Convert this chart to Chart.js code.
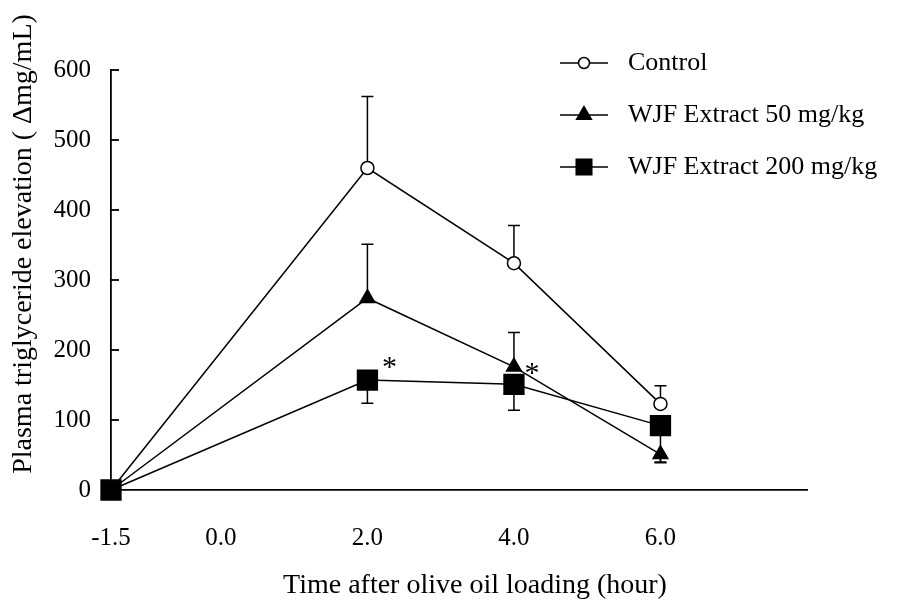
<!DOCTYPE html>
<html>
<head>
<meta charset="utf-8">
<script src="https://cdn.jsdelivr.net/npm/chart.js@4/dist/chart.umd.min.js"></script>
<style>
  html, body { margin: 0; padding: 0; background: #fff; }
  #wrap { width: 901px; height: 603px; }
</style>
</head>
<body>
<div id="wrap"><canvas id="chart"></canvas></div>
<script>
// Plasma triglyceride elevation after olive oil loading

const hours = [-1.5, 2.0, 4.0, 6.0];
const xTicks = [-1.5, 0, 2, 4, 6];
const yTicks = [0, 100, 200, 300, 400, 500, 600];
const seriesNames = ["Control", "WJF Extract 50 mg/kg", "WJF Extract 200 mg/kg"];

const control = [0, 460, 324, 123];
const extract50 = [0, 274, 176, 51];
const extract200 = [0, 157, 151, 92];

// SEM, signed: positive is drawn upward, negative downward
const controlErr = [0, 102, 54, 26];
const extract50Err = [0, 77, 49, -12];
const extract200Err = [0, -33, -37, -52];

// significance marks: [dataset, point]
const starred = [[2, 1], [2, 2]];

const SERIF = "'Liberation Serif', 'Times New Roman', serif";

const toPoints = (vals) => vals.map((v, i) => ({ x: hours[i], y: v }));

// error bars under the markers
const errorBars = {
  id: "errorBars",
  beforeDatasetsDraw(chart) {
    const { ctx } = chart;
    const yScale = chart.scales.y;
    const errs = [controlErr, extract50Err, extract200Err];
    ctx.save();
    ctx.strokeStyle = "#000";
    ctx.lineWidth = 1.5;
    errs.forEach((list, di) => {
      const meta = chart.getDatasetMeta(di);
      const vals = chart.data.datasets[di].data;
      list.forEach((e, j) => {
        if (!e) return;
        const pt = meta.data[j];
        const y1 = yScale.getPixelForValue(vals[j].y + e);
        ctx.beginPath();
        ctx.moveTo(pt.x, pt.y);
        ctx.lineTo(pt.x, y1);
        ctx.moveTo(pt.x - 6, y1);
        ctx.lineTo(pt.x + 6, y1);
        ctx.stroke();
      });
    });
    ctx.restore();
  },
};

// inward y ticks, titles, asterisks and legend
const decorations = {
  id: "decorations",
  afterDraw(chart) {
    const { ctx, chartArea } = chart;
    const yScale = chart.scales.y;
    ctx.save();
    ctx.strokeStyle = "#000";
    ctx.fillStyle = "#000";
    ctx.lineWidth = 1.8;
    yTicks.forEach((v) => {
      const y = yScale.getPixelForValue(v);
      ctx.beginPath();
      ctx.moveTo(chartArea.left, y);
      ctx.lineTo(chartArea.left + 8, y);
      ctx.stroke();
    });

    // axis titles
    ctx.font = "28px " + SERIF;
    ctx.textAlign = "center";
    ctx.textBaseline = "middle";
    ctx.fillText("Time after olive oil loading (hour)", 475, 586);
    ctx.save();
    ctx.translate(24, 244);
    ctx.rotate(-Math.PI / 2);
    ctx.fillText("Plasma triglyceride elevation ( \u0394mg/mL)", 0, 0);
    ctx.restore();

    // asterisks
    const starOffsets = [[22, -19], [18, -17]];
    ctx.font = "30px " + SERIF;
    ctx.textBaseline = "alphabetic";
    starred.forEach(([di, j], k) => {
      const pt = chart.getDatasetMeta(di).data[j];
      ctx.fillText("*", pt.x + starOffsets[k][0], pt.y + starOffsets[k][1] + 15);
    });

    // legend
    const rows = [63, 115, 167];
    const legendRadius = [5.5, 8.5, 11];
    ctx.font = "26px " + SERIF;
    ctx.textAlign = "left";
    ctx.textBaseline = "middle";
    chart.data.datasets.forEach((ds, i) => {
      const y = rows[i];
      ctx.lineWidth = 1.5;
      ctx.strokeStyle = "#000";
      ctx.beginPath();
      ctx.moveTo(560, y);
      ctx.lineTo(608, y);
      ctx.stroke();
      ctx.fillStyle = ds.pointBackgroundColor;
      Chart.helpers.drawPoint(ctx, {
        pointStyle: ds.pointStyle,
        radius: legendRadius[i],
        rotation: 0,
        borderWidth: ds.pointBorderWidth,
      }, 584, y);
      ctx.fillStyle = "#000";
      ctx.fillText(ds.label, 628, y);
    });
    ctx.restore();
  },
};

const baseDataset = {
  borderColor: "#000",
  borderWidth: 1.5,
  pointBorderColor: "#000",
  pointBorderWidth: 1.5,
  tension: 0,
  clip: false,
};

new Chart(document.getElementById("chart"), {
  type: "line",
  data: {
    datasets: [
      {
        ...baseDataset,
        label: seriesNames[0],
        data: toPoints(control),
        pointStyle: "circle",
        pointRadius: 6.5,
        pointBackgroundColor: "#fff",
        order: 2,
      },
      {
        ...baseDataset,
        label: seriesNames[1],
        data: toPoints(extract50),
        pointStyle: "triangle",
        pointRadius: 8.5,
        pointBackgroundColor: "#000",
        order: 1,
      },
      {
        ...baseDataset,
        label: seriesNames[2],
        data: toPoints(extract200),
        pointStyle: "rect",
        pointRadius: 14,
        pointBackgroundColor: "#000",
        order: 0,
      },
    ],
  },
  options: {
    responsive: true,
    maintainAspectRatio: false,
    animation: false,
    layout: { padding: { top: 70, right: 94, left: 0, bottom: 0 } },
    plugins: {
      legend: { display: false },
      tooltip: { enabled: false },
    },
    scales: {
      x: {
        type: "linear",
        min: -1.5,
        max: 8,
        afterBuildTicks: (s) => { s.ticks = xTicks.map((v) => ({ value: v })); },
        afterFit: (s) => { s.height = 113; },
        grid: { display: false, drawTicks: false },
        border: { display: true, color: "#000", width: 1.8 },
        ticks: {
          autoSkip: false,
          maxRotation: 0,
          padding: 33,
          color: "#000",
          font: { family: SERIF, size: 25 },
          callback: (v) => Number(v).toFixed(1),
        },
      },
      y: {
        min: 0,
        max: 600,
        afterBuildTicks: (s) => { s.ticks = yTicks.map((v) => ({ value: v })); },
        afterFit: (s) => { s.width = 111; },
        grid: { display: false, drawTicks: false },
        border: { display: true, color: "#000", width: 1.8 },
        ticks: {
          padding: 20,
          color: "#000",
          font: { family: SERIF, size: 25 },
        },
      },
    },
  },
  plugins: [errorBars, decorations],
});
</script>
</body>
</html>
